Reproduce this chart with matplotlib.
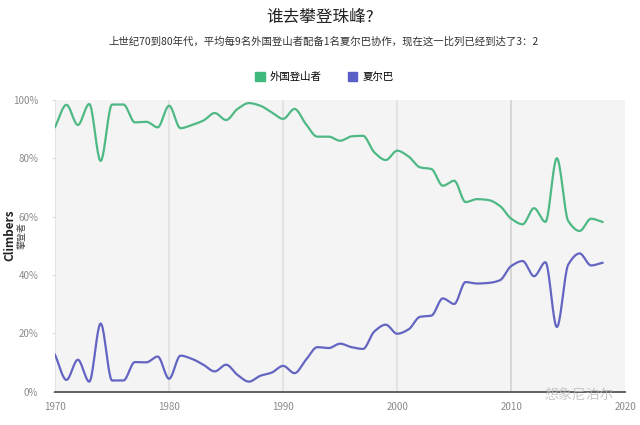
import matplotlib
matplotlib.use("Agg")
import matplotlib.pyplot as plt
from matplotlib.patches import Patch
import numpy as np

plt.rcParams['font.family'] = ['Noto Sans CJK SC', 'DejaVu Sans']

years = list(range(1970, 2019))
foreign = [90.7, 98.3, 91.4, 98.6, 79.1, 98.4, 98.4, 92.3, 92.5, 90.6,
           98.0, 90.3, 91.4, 92.9, 95.5, 93.1, 96.9, 98.9, 98.0, 95.7,
           93.5, 96.9, 91.7, 87.4, 87.4, 86.0, 87.5, 87.7, 82.0, 79.4,
           82.6, 80.6, 76.9, 76.3, 70.6, 72.3, 65.0, 66.0, 65.7, 63.7,
           59.3, 57.4, 62.9, 58.2, 80.0, 58.5, 55.1, 59.3, 58.2]
sherpa = [12.7, 4.1, 11.0, 3.5, 23.4, 3.9, 3.9, 10.2, 10.1, 12.1,
          4.5, 12.4, 11.3, 9.3, 7.0, 9.3, 5.8, 3.5, 5.5, 6.6,
          8.9, 6.4, 11.0, 15.3, 15.0, 16.5, 15.3, 14.7, 20.7, 23.0,
          19.9, 21.4, 25.7, 26.1, 32.0, 30.1, 37.6, 37.1, 37.3, 38.2,
          43.1, 44.8, 39.6, 44.4, 22.2, 43.6, 47.4, 43.3, 44.2]
yticks = [0, 20, 40, 60, 80, 100]
xticks = [1970, 1980, 1990, 2000, 2010, 2020]


def monotone(x, y, n=20):
    # monotone cubic (Fritsch-Carlson), like d3 curveMonotoneX
    x = np.asarray(x, float)
    y = np.asarray(y, float)
    h = np.diff(x)
    d = np.diff(y) / h
    m = np.zeros_like(y)
    m[0], m[-1] = d[0], d[-1]
    for i in range(1, len(y) - 1):
        if d[i - 1] * d[i] <= 0:
            m[i] = 0
        else:
            w1 = 2 * h[i] + h[i - 1]
            w2 = h[i] + 2 * h[i - 1]
            m[i] = (w1 + w2) / (w1 / d[i - 1] + w2 / d[i])
    xs, ys = [], []
    for i in range(len(x) - 1):
        t = np.linspace(0, 1, n, endpoint=False)
        h00 = 2 * t**3 - 3 * t**2 + 1
        h10 = t**3 - 2 * t**2 + t
        h01 = -2 * t**3 + 3 * t**2
        h11 = t**3 - t**2
        xs.append(x[i] + t * h[i])
        ys.append(h00 * y[i] + h10 * h[i] * m[i] + h01 * y[i + 1] + h11 * h[i] * m[i + 1])
    xs.append([x[-1]])
    ys.append([y[-1]])
    return np.concatenate(xs), np.concatenate(ys)


fig = plt.figure(figsize=(6.4, 4.25), dpi=100)
ax = fig.add_axes([0.086, 0.078, 0.891, 0.687])
ax.set_facecolor('#f4f4f4')

for yr in xticks[:-1]:
    ax.axvline(yr, color='#e0e0e0' if yr != 2010 else '#d2d2d2', lw=1.2, zorder=1)

gx, gy = monotone(years, foreign)
bx, by = monotone(years, sherpa)
ax.plot(gx, gy, color='#4fb985', lw=1.6, zorder=3)
ax.plot(bx, by, color='#6465c2', lw=1.6, zorder=3)

ax.set_xlim(1970, 2020)
ax.set_ylim(0, 100)
ax.set_xticks(xticks)
ax.set_yticks(yticks)
ax.set_yticklabels([f'{v}%' for v in yticks])
ax.tick_params(axis='both', labelsize=7, colors='#999999', labelcolor='#8a8a8a')
ax.tick_params(axis='x', length=0, pad=7)
ax.tick_params(axis='y', length=2, pad=10, color='#dddddd')
for s in ['top', 'right', 'left']:
    ax.spines[s].set_visible(False)
ax.spines['bottom'].set_color('#555555')
ax.spines['bottom'].set_linewidth(1.3)

fig.text(0.016, 0.447, 'Climbers', rotation=90, ha='center', va='center',
         fontsize=8.5, fontweight='bold', color='#222222')
fig.text(0.035, 0.447, '攀登者', rotation=90, ha='center', va='center',
         fontsize=6.5, color='#444444')

fig.text(0.5, 0.958, '谁去攀登珠峰?', ha='center', va='center', fontsize=12, color='#222222')
fig.text(0.506, 0.903, '上世纪70到80年代，平均每9名外国登山者配备1名夏尔巴协作，现在这一比列已经到达了3：2',
         ha='center', va='center', fontsize=7.5, color='#333333')

handles = [Patch(color='#3fba7c', label='外国登山者'), Patch(color='#5a5ec6', label='夏尔巴')]
fig.legend(handles=handles, loc='center', bbox_to_anchor=(0.507, 0.818), ncol=2, frameon=False,
           fontsize=7.5, handlelength=0.9, handleheight=0.9, handletextpad=0.5, columnspacing=2.5)

fig.text(0.905, 0.072, '想象尼泊尔', ha='center', va='center', fontsize=10,
         color='#bbbbbb', alpha=0.8, zorder=10)

fig.savefig('out.png', dpi=100)
